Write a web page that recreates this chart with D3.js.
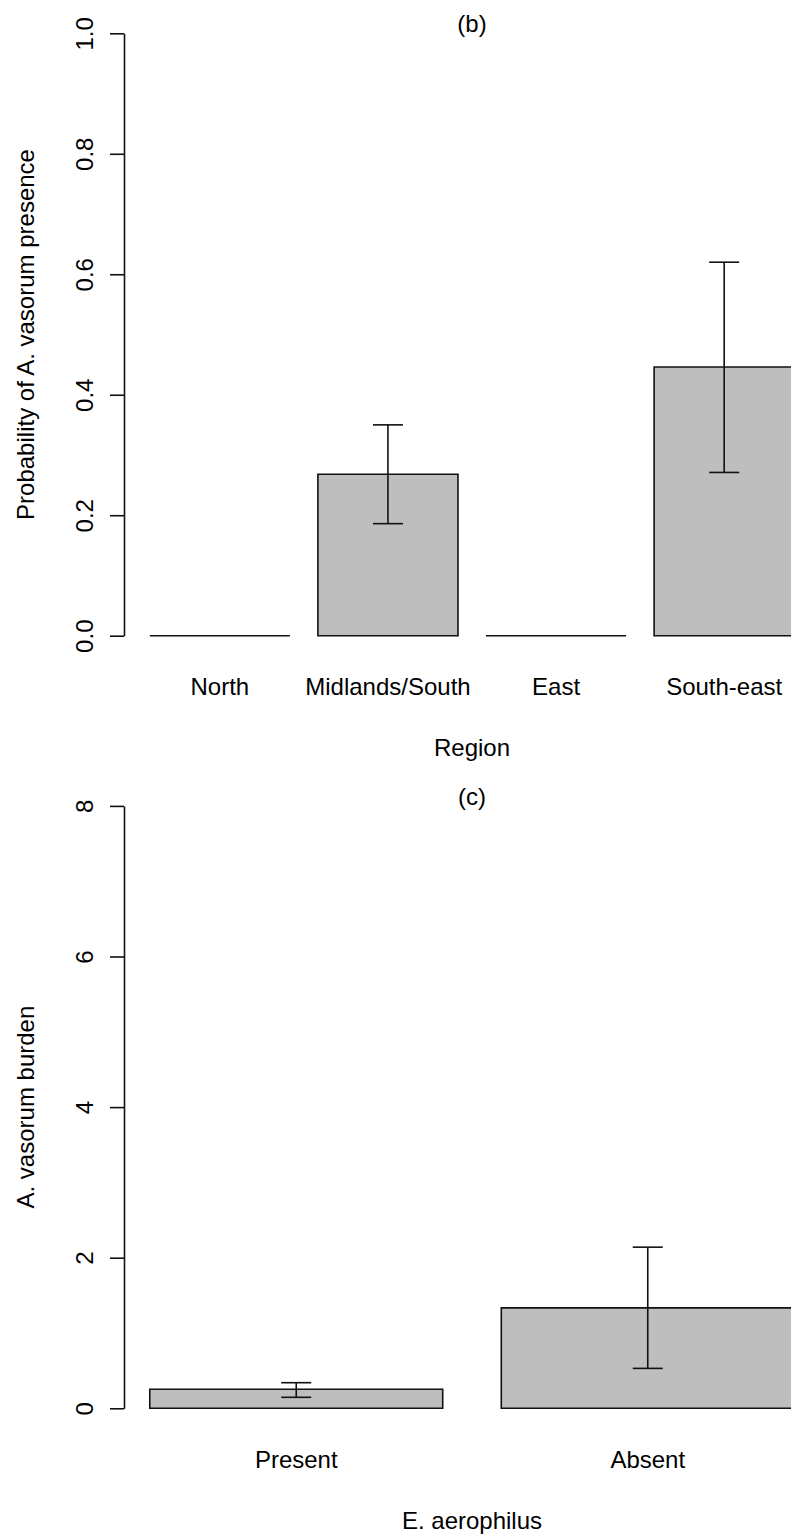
<!DOCTYPE html>
<html>
<head>
<meta charset="utf-8">
<script src="https://cdn.jsdelivr.net/npm/d3@7"></script>
<style>
  body { margin: 0; background: white; }
  text { font-family: "Liberation Sans", Arial, sans-serif; fill: black; }
</style>
</head>
<body>
<div id="vis"></div>
<script>
var width = 791,
    height = 1535;

// panel (b) - region
var regions = ["North", "Midlands/South", "East", "South-east"];
var regionProb = [0, 0.268, 0, 0.446];
var regionLo = [null, 0.186, null, 0.271];
var regionHi = [null, 0.350, null, 0.620];
var probTicks = [0, 0.2, 0.4, 0.6, 0.8, 1.0];

// panel (c) - E. aerophilus
var aeroGroups = ["Present", "Absent"];
var burden = [0.252, 1.334];
var burdenLo = [0.146, 0.53];
var burdenHi = [0.34, 2.14];
var burdenTicks = [0, 2, 4, 6, 8];

var svg = d3.select("#vis").append("svg")
    .attr("width", width)
    .attr("height", height);

svg.append("rect")
    .attr("width", width)
    .attr("height", height)
    .attr("fill", "white");

// plot region (same for both panels, R style)
var plotLeft = 124,
    plotRight = 820,
    yZero = 635.7,
    yTop = 33.3;

drawPanel({
    top: 0,
    cats: regions, vals: regionProb, lo: regionLo, hi: regionHi,
    ymax: 1, ticks: probTicks, fmt: d3.format(".1f"),
    title: "(b)", xlab: "Region", ylab: "Probability of A. vasorum presence"
});

drawPanel({
    top: 772.6,
    cats: aeroGroups, vals: burden, lo: burdenLo, hi: burdenHi,
    ymax: 8, ticks: burdenTicks, fmt: d3.format("d"),
    title: "(c)", xlab: "E. aerophilus", ylab: "A. vasorum burden"
});

function drawPanel(p) {
    var n = p.cats.length;
    // barplot: width 1, space 0.2, xlim extended by 4%
    var span = 1.2 * n - 0.2;
    var x = d3.scaleLinear()
        .domain([0.2 - 0.04 * span, 1.2 * n + 0.04 * span])
        .range([plotLeft, plotRight]);
    var y = d3.scaleLinear()
        .domain([0, p.ymax])
        .range([p.top + yZero, p.top + yTop]);

    var g = svg.append("g");

    var centers = d3.range(n).map(function(i) { return 0.7 + 1.2 * i; });

    //--------BARS--------//
    g.selectAll(".bar")
        .data(p.vals)
        .enter()
        .append("path")
        .attr("class", "bar")
        .attr("d", function(d, i) {
            var x0 = x(centers[i] - 0.5), x1 = x(centers[i] + 0.5);
            return "M" + x0 + "," + y(0) + "H" + x1 + "V" + y(d) + "H" + x0 + "Z";
        })
        .attr("fill", "#bebebe")
        .attr("stroke", "#111")
        .attr("stroke-width", 1.6);

    //--------ERROR BARS--------//
    var eb = g.selectAll(".err")
        .data(d3.range(n).filter(function(i) { return p.lo[i] != null; }))
        .enter()
        .append("g")
        .attr("class", "err")
        .attr("stroke", "#111")
        .attr("stroke-width", 1.6);

    eb.append("line")
        .attr("x1", function(i) { return x(centers[i]); })
        .attr("x2", function(i) { return x(centers[i]); })
        .attr("y1", function(i) { return y(p.lo[i]); })
        .attr("y2", function(i) { return y(p.hi[i]); });
    eb.append("line")
        .attr("x1", function(i) { return x(centers[i]) - 15; })
        .attr("x2", function(i) { return x(centers[i]) + 15; })
        .attr("y1", function(i) { return y(p.hi[i]); })
        .attr("y2", function(i) { return y(p.hi[i]); });
    eb.append("line")
        .attr("x1", function(i) { return x(centers[i]) - 15; })
        .attr("x2", function(i) { return x(centers[i]) + 15; })
        .attr("y1", function(i) { return y(p.lo[i]); })
        .attr("y2", function(i) { return y(p.lo[i]); });

    //--------Y AXIS--------//
    var yAxis = g.append("g")
        .attr("transform", "translate(" + plotLeft + ",0)")
        .call(d3.axisLeft(y).tickValues(p.ticks).tickFormat(p.fmt).tickSize(14).tickSizeOuter(0));

    yAxis.select(".domain").attr("stroke", "#111").attr("stroke-width", 1.6);
    yAxis.selectAll(".tick line").attr("stroke", "#111").attr("stroke-width", 1.6);
    yAxis.selectAll(".tick text")
        .attr("transform", "rotate(-90)")
        .attr("text-anchor", "middle")
        .attr("x", 0)
        .attr("y", -40)
        .attr("dy", "0.36em")
        .style("font-size", "24px")
        .attr("fill", "black");
    yAxis.attr("font-family", null).attr("font-size", null);

    //--------CATEGORY LABELS--------//
    g.selectAll(".cat")
        .data(p.cats)
        .enter()
        .append("text")
        .attr("class", "cat")
        .attr("x", function(d, i) { return x(centers[i]); })
        .attr("y", p.top + 695)
        .attr("text-anchor", "middle")
        .style("font-size", "24px")
        .text(function(d) { return d; });

    // titles
    g.append("text")
        .attr("x", (plotLeft + plotRight) / 2)
        .attr("y", p.top + 32)
        .attr("text-anchor", "middle")
        .style("font-size", "24px")
        .text(p.title);

    g.append("text")
        .attr("x", (plotLeft + plotRight) / 2)
        .attr("y", p.top + 756)
        .attr("text-anchor", "middle")
        .style("font-size", "24px")
        .text(p.xlab);

    g.append("text")
        .attr("transform", "translate(25," + (p.top + 334.5) + ") rotate(-90)")
        .attr("text-anchor", "middle")
        .attr("dy", "0.36em")
        .style("font-size", "24px")
        .text(p.ylab);
}
</script>
</body>
</html>
